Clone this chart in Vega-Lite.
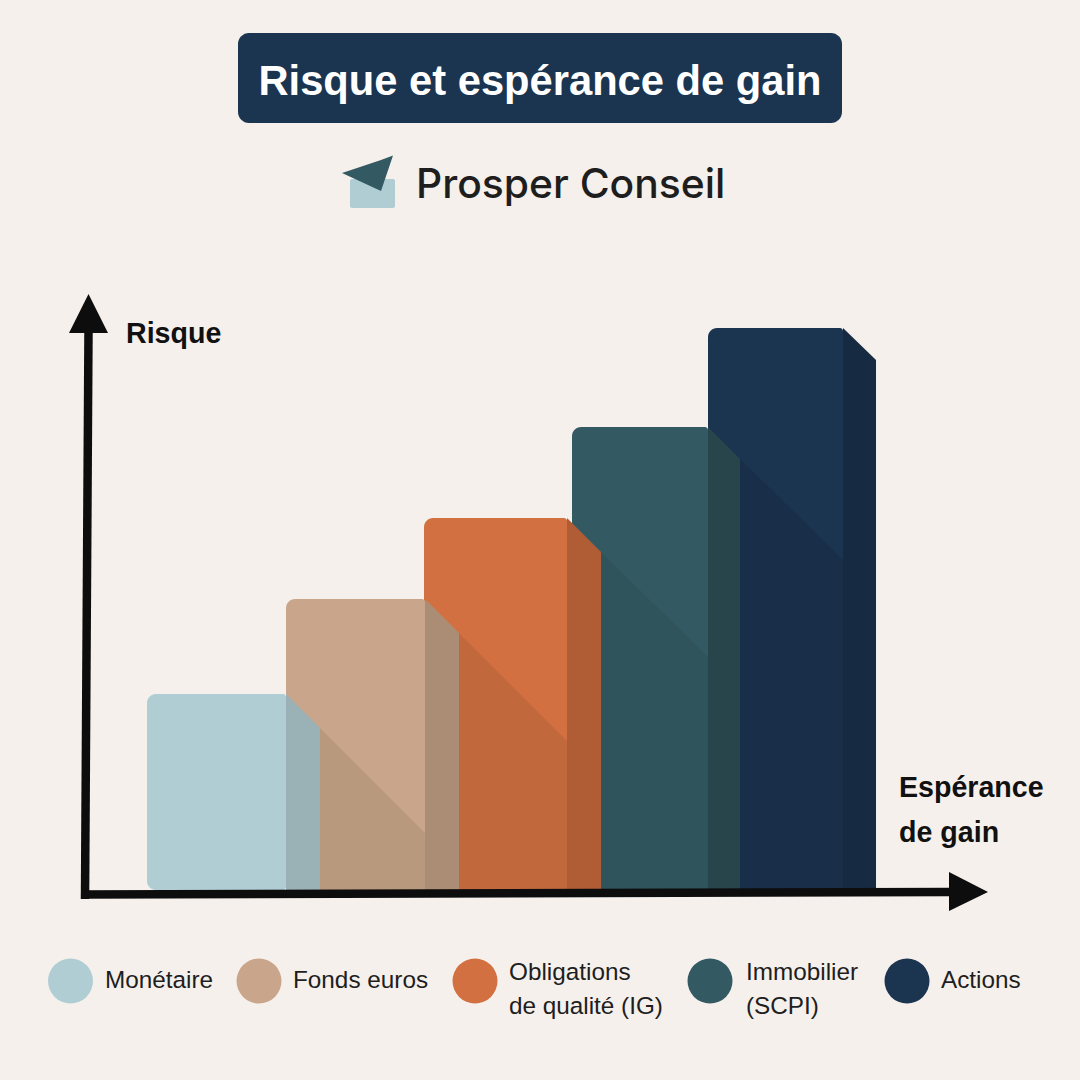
{
"$schema":"https://vega.github.io/schema/vega-lite/v6.json",
"width":1080,"height":1080,"padding":0,
"autosize":{"type":"fit","contains":"padding"},
"background":"#F5F0EC",
"config":{"view":{"stroke":null}},
"datasets":{
"barres":[
{"classe":"Actions","debut":708,"fin":843,"risque":562},
{"classe":"Immobilier","debut":572,"fin":708,"risque":463},
{"classe":"Obligations","debut":424,"fin":567,"risque":372},
{"classe":"Fonds euros","debut":286,"fin":425,"risque":291},
{"classe":"Monétaire","debut":147,"fin":286,"risque":196}
],
"ombres":[
{"classe":"Fonds euros","gain":320,"haut":162},{"classe":"Fonds euros","gain":425,"haut":57},
{"classe":"Obligations","gain":459,"haut":257},{"classe":"Obligations","gain":567,"haut":149},
{"classe":"Immobilier","gain":601,"haut":338},{"classe":"Immobilier","gain":708,"haut":233},
{"classe":"Actions","gain":740,"haut":431},{"classe":"Actions","gain":843,"haut":330}
],
"cotes":[
{"classe":"Monétaire","gain":286,"haut":196},{"classe":"Monétaire","gain":320,"haut":162},
{"classe":"Fonds euros","gain":425,"haut":291},{"classe":"Fonds euros","gain":459,"haut":257},
{"classe":"Obligations","gain":567,"haut":372},{"classe":"Obligations","gain":601,"haut":338},
{"classe":"Immobilier","gain":708,"haut":463},{"classe":"Immobilier","gain":740,"haut":431},
{"classe":"Actions","gain":843,"haut":562},{"classe":"Actions","gain":876,"haut":530}
],
"axes":[
{"axe":"risque","gain":85,"v":-9},{"axe":"risque","gain":88.5,"v":560},
{"axe":"gain","gain":81,"v":-4.5},{"axe":"gain","gain":950,"v":-2}
],
"fleches":[
{"forme":"risque","gain":69,"haut":557,"bas":557},{"forme":"risque","gain":88.5,"haut":596,"bas":557},{"forme":"risque","gain":108,"haut":557,"bas":557},
{"forme":"gain","gain":949,"haut":18,"bas":-21},{"forme":"gain","gain":988,"haut":-2,"bas":-2}
],
"legende":[
{"classe":"Monétaire","gain":70.5},{"classe":"Fonds euros","gain":259},{"classe":"Obligations","gain":475},{"classe":"Immobilier","gain":710},{"classe":"Actions","gain":907}
],
"legende_textes":[
{"texte":"Monétaire","gain":105,"v":-98},
{"texte":"Fonds euros","gain":293,"v":-98},
{"texte":"Obligations","gain":509,"v":-90},
{"texte":"de qualité (IG)","gain":509,"v":-124},
{"texte":"Immobilier","gain":746,"v":-90},
{"texte":"(SCPI)","gain":746,"v":-124},
{"texte":"Actions","gain":941,"v":-98}
],
"axes_textes":[
{"texte":"Risque","gain":126,"v":547},
{"texte":"Espérance","gain":899,"v":93},
{"texte":"de gain","gain":899,"v":48}
]
},
"layer":[
{"data":{"values":[{"gain":238,"fin":842,"haut":857,"bas":767}]},
"mark":{"type":"bar","color":"#1B3550","cornerRadius":11},
"encoding":{
"x":{"field":"gain","type":"quantitative","scale":{"domain":[0,1080],"nice":false,"zero":false},"axis":null},
"x2":{"field":"fin"},
"y":{"field":"haut","type":"quantitative","scale":{"domain":[-190,890],"nice":false,"zero":false},"axis":null},
"y2":{"field":"bas"}}},
{"data":{"values":[{"texte":"Risque et espérance de gain","gain":540,"v":795}]},
"mark":{"type":"text","font":"Liberation Sans","fontWeight":"bold","fontSize":41.7,"color":"#FFFFFF","align":"center","baseline":"alphabetic"},
"encoding":{"x":{"field":"gain","type":"quantitative"},"y":{"field":"v","type":"quantitative"},"text":{"field":"texte"}}},
{"data":{"values":[{"gain":350,"fin":395,"haut":711,"bas":682}]},
"mark":{"type":"bar","color":"#AFCDD3","cornerRadius":2},
"encoding":{"x":{"field":"gain","type":"quantitative"},"x2":{"field":"fin"},"y":{"field":"haut","type":"quantitative"},"y2":{"field":"bas"}}},
{"data":{"values":[{"gain":342,"haut":717,"bas":717},{"gain":381,"haut":730,"bas":699},{"gain":393,"haut":734.5,"bas":734.5}]},
"mark":{"type":"area","color":"#335A63","orient":"vertical"},
"encoding":{"x":{"field":"gain","type":"quantitative"},"y":{"field":"haut","type":"quantitative","stack":null},"y2":{"field":"bas"}}},
{"data":{"values":[{"texte":"Prosper Conseil","gain":416,"v":692}]},
"mark":{"type":"text","font":"Inter","fontWeight":500,"fontSize":40.8,"color":"#1E1E1E","align":"left","baseline":"alphabetic"},
"encoding":{"x":{"field":"gain","type":"quantitative"},"y":{"field":"v","type":"quantitative"},"text":{"field":"texte"}}},
{"data":{"name":"barres"},
"mark":{"type":"bar","cornerRadiusTopLeft":9,"cornerRadiusBottomLeft":9,"cornerRadiusTopRight":3,"cornerRadiusBottomRight":3},
"encoding":{
"x":{"field":"debut","type":"quantitative"},"x2":{"field":"fin"},
"y":{"field":"risque","type":"quantitative"},"y2":{"datum":0},
"order":{"value":0},
"color":{"field":"classe","type":"nominal","legend":null,"sort":null,"scale":{"domain":["Monétaire","Fonds euros","Obligations","Immobilier","Actions"],"range":["#AFCDD3","#C9A68B","#D27041","#335A63","#1B3550"]}}}},
{"data":{"name":"ombres"},
"mark":{"type":"area","orient":"vertical"},
"encoding":{
"x":{"field":"gain","type":"quantitative"},
"y":{"field":"haut","type":"quantitative","stack":null},"y2":{"datum":0},
"color":{"field":"classe","type":"nominal","legend":null,"scale":{"domain":["Fonds euros","Obligations","Immobilier","Actions"],"range":["#B9997E","#C1683C","#2F545C","#182E49"]}}}},
{"data":{"name":"cotes"},
"mark":{"type":"area","orient":"vertical"},
"encoding":{
"x":{"field":"gain","type":"quantitative"},
"y":{"field":"haut","type":"quantitative","stack":null},"y2":{"datum":0},
"color":{"field":"classe","type":"nominal","legend":null,"scale":{"domain":["Monétaire","Fonds euros","Obligations","Immobilier","Actions"],"range":["#9AB1B6","#AB8D76","#B05D36","#28454C","#162A41"]}}}},
{"data":{"name":"axes"},
"mark":{"type":"line","color":"#0D0D0D","strokeWidth":8.5,"strokeCap":"butt"},
"encoding":{"x":{"field":"gain","type":"quantitative"},"y":{"field":"v","type":"quantitative"},"detail":{"field":"axe"},"order":{"field":"gain"}}},
{"data":{"name":"fleches"},
"mark":{"type":"area","color":"#0D0D0D","orient":"vertical"},
"encoding":{"x":{"field":"gain","type":"quantitative"},"y":{"field":"haut","type":"quantitative","stack":null},"y2":{"field":"bas"},"detail":{"field":"forme"}}},
{"data":{"name":"axes_textes"},
"mark":{"type":"text","font":"Liberation Sans","fontWeight":"bold","fontSize":28.6,"color":"#111111","align":"left","baseline":"alphabetic"},
"encoding":{"x":{"field":"gain","type":"quantitative"},"y":{"field":"v","type":"quantitative"},"text":{"field":"texte"}}},
{"data":{"name":"legende"},
"mark":{"type":"circle","size":2025,"opacity":1},
"encoding":{"x":{"field":"gain","type":"quantitative"},"y":{"datum":-91},
"color":{"field":"classe","type":"nominal","legend":null,"scale":{"domain":["Monétaire","Fonds euros","Obligations","Immobilier","Actions"],"range":["#AFCDD3","#C9A68B","#D27041","#335A63","#1B3550"]}}}},
{"data":{"name":"legende_textes"},
"mark":{"type":"text","font":"Liberation Sans","fontSize":24.3,"color":"#1E1E1E","align":"left","baseline":"alphabetic"},
"encoding":{"x":{"field":"gain","type":"quantitative"},"y":{"field":"v","type":"quantitative"},"text":{"field":"texte"}}}
],
"resolve":{"scale":{"color":"independent"}}
}
